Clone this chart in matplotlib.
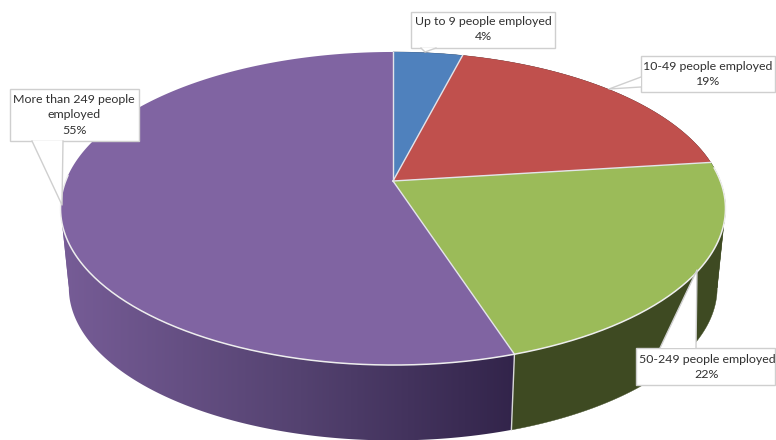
import numpy as np
import matplotlib.pyplot as plt
from matplotlib.patches import Polygon

labels = ['Up to 9 people employed', '10-49 people employed',
          '50-249 people employed', 'More than 249 people\nemployed']
values = [4, 19, 22, 55]
colors = ['#4f81bd', '#c0504d', '#9bbb59', '#8064a2']
wall_colors = ['#274060', '#5c2624', '#3e4a22', None]

# perspective disc: tilt k, half axes a, b around the apex
k = 0.1757
a, b = 327.3, 151.7
cx, cy = 393, 181
# the underside sits a bit smaller and lower
scale_low, cy_low = 0.975, 261
line_col = '#cfcfcf'


def project(theta, s=1.0, y0=cy):
    # theta is clockwise from twelve o'clock, in degrees
    t = np.radians(theta)
    u, v = np.sin(t), np.cos(t)
    w = 1 + k * v
    return cx + s * a * u / w, y0 - s * b * v / w


def draw_callout(ax, box, tip, root, text):
    # white box with a wedge running out to the slice
    x0, y0, x1, y1 = box
    ax.add_patch(Polygon([(x0, y0), (x1, y0), (x1, y1), (x0, y1)], fc='white', ec=line_col, lw=1.0, zorder=5))
    ax.add_patch(Polygon([root[0], tip, root[1]], fc='white', ec='none', zorder=6))
    ax.plot([root[0][0], tip[0], root[1][0]], [root[0][1], tip[1], root[1][1]], color=line_col, lw=1.0, zorder=6)
    ax.text(text[0], text[1], text[2], ha='center', va='center', fontsize=8.9, family='Lato',
            color='#303030', linespacing=1.55, zorder=7)


fig = plt.figure(figsize=(7.76, 4.40), dpi=100)
ax = fig.add_axes([0, 0, 1, 1])

edges = np.cumsum([0] + values) * 3.6

# the outline turns back at these two angles, so walls are split there
turn = 90 + np.degrees(np.arcsin(k))
splits = [turn, 360 - turn]

# side walls, purple one has a left to right shade
xg = np.arange(55, 525)
shade = np.stack([np.interp(xg, [65, 300, 515], [118, 84, 50]),
                  np.interp(xg, [65, 300, 515], [92, 66, 36]),
                  np.interp(xg, [65, 300, 515], [150, 112, 74])], axis=-1) / 255
for i in range(len(values)):
    cuts = [edges[i]] + [s for s in splits if edges[i] < s < edges[i + 1]] + [edges[i + 1]]
    for t0, t1 in zip(cuts[:-1], cuts[1:]):
        th = np.linspace(t0, t1, 300)
        xs, ys = project(th)
        xl, yl = project(th[::-1], scale_low, cy_low)
        pts = list(zip(xs, ys)) + list(zip(xl, yl))
        if wall_colors[i] is not None:
            ax.add_patch(Polygon(pts, fc=wall_colors[i], ec=wall_colors[i], lw=0.3, zorder=1))
        else:
            wall = Polygon(pts, fc='none', ec='none', zorder=1)
            ax.add_patch(wall)
            im = ax.imshow(shade[np.newaxis, :, :], extent=(55, 525, 445, 200), aspect='auto', zorder=1)
            im.set_clip_path(wall)

ax.set_xlim(0, 776)
ax.set_ylim(440, 0)
ax.axis('off')

# seam between the green and purple walls
xa, ya = project(edges[3])
xb, yb = project(edges[3], scale_low, cy_low)
ax.plot([xa, xb], [ya, yb], color='#d8d8d8', lw=1.0, zorder=2)

# top face
for i in range(len(values)):
    th = np.linspace(edges[i], edges[i + 1], 200)
    xs, ys = project(th)
    pts = [(cx, cy)] + list(zip(xs, ys))
    ax.add_patch(Polygon(pts, fc=colors[i], ec='none', zorder=3))

# slice borders and the light rim along the front
for e in edges[:-1]:
    xe, ye = project(e)
    ax.plot([cx, xe], [cy, ye], color='#e4e4ea', lw=1.0, zorder=4)
xr, yr = project(np.linspace(85, 272, 300))
ax.plot(xr, yr, color='#eeeeee', lw=1.1, zorder=4)

draw_callout(ax, (411, 12, 555, 48), (425, 52), [(421, 48), (436, 48)],
             (483, 29, labels[0] + '\n' + str(values[0]) + '%'))
draw_callout(ax, (641, 56, 775, 92), (609, 89), [(641, 77), (641, 87)],
             (708, 74, labels[1] + '\n' + str(values[1]) + '%'))
draw_callout(ax, (636, 348, 775, 385), (697, 270), [(660, 348), (696, 348)],
             (707, 367, labels[2] + '\n' + str(values[2]) + '%'))
draw_callout(ax, (10, 89, 139, 141), (62, 205), [(32, 141), (63, 141)],
             (74, 115, labels[3] + '\n' + str(values[3]) + '%'))

fig.savefig('out.png', dpi=100)
